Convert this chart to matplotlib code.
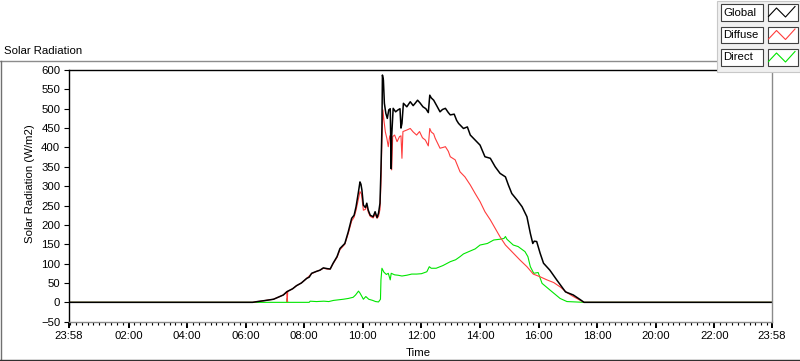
import matplotlib.pyplot as plt
from matplotlib.patches import Rectangle
from matplotlib.lines import Line2D

plt.rcParams["font.family"] = ["Liberation Sans", "DejaVu Sans"]
plt.rcParams["font.size"] = 8.2

W, H = 800, 361

# time in minutes after midnight (23:58 of the previous day = -2), values in W/m2
global_min = [-2, 374, 384, 396, 417, 437, 445, 456, 464, 474, 485, 490, 495, 505, 512,
              519, 527, 533, 539, 547, 553, 563, 570, 577, 582, 586, 591, 594, 596, 598,
              601, 605, 608, 611, 615, 621, 625, 629, 632, 635, 637, 639, 640, 642, 644,
              647, 650, 653, 656, 658, 659, 662, 667, 672, 676, 678, 680, 683, 690, 697,
              703, 707, 712, 717, 723, 729, 734, 737, 740, 745, 752, 758, 763, 769, 775,
              779, 787, 792, 796, 806, 814, 820, 830, 840, 850, 861, 871, 881, 892, 898,
              905, 916, 926, 936, 943, 948, 951, 956, 963, 970, 983, 997, 1015, 1031, 1044,
              1053, 1438]
global_wm2 = [0, 0, 2, 4, 8, 19, 28, 35, 43, 50, 62, 65, 75, 80, 83,
              89, 87, 86, 101, 118, 139, 152, 182, 217, 225, 247, 286, 311, 305, 290,
              251, 245, 256, 238, 225, 221, 234, 219, 230, 256, 342, 453, 587, 574, 514,
              488, 475, 497, 500, 345, 430, 501, 492, 497, 500, 450, 462, 514, 505, 518,
              508, 514, 522, 515, 505, 500, 490, 535, 528, 522, 506, 492, 498, 501, 490,
              484, 486, 470, 462, 449, 453, 432, 419, 406, 376, 372, 350, 333, 324, 303,
              281, 264, 247, 221, 178, 152, 158, 157, 127, 101, 83, 58, 27, 19, 8,
              0, 0]

diffuse_min = [-2, 374, 384, 396, 417, 437, 444, 445, 446, 456, 464, 474, 485, 495, 505,
               512, 519, 527, 533, 539, 547, 553, 563, 570, 577, 582, 586, 591, 594, 597,
               601, 605, 608, 611, 615, 621, 625, 629, 632, 635, 637, 639, 641, 643, 646,
               649, 652, 655, 657, 659, 661, 665, 670, 675, 678, 680, 682, 690, 697, 703,
               710, 716, 722, 728, 734, 737, 740, 745, 748, 758, 764, 769, 775, 779, 789,
               799, 809, 820, 830, 840, 850, 861, 871, 881, 892, 902, 912, 922, 936, 949,
               963, 977, 991, 1005, 1018, 1031, 1044, 1053, 1438]
diffuse_wm2 = [0, 0, 2, 4, 8, 19, 28, 2, 28, 35, 43, 50, 62, 74, 80,
               83, 88, 86, 86, 100, 116, 136, 150, 178, 210, 220, 238, 268, 286, 280,
               238, 240, 250, 233, 222, 218, 228, 217, 222, 240, 308, 420, 497, 471, 440,
               424, 402, 430, 420, 342, 428, 432, 415, 428, 430, 372, 441, 445, 449, 440,
               432, 441, 425, 419, 404, 449, 440, 435, 424, 398, 400, 402, 390, 376, 368,
               337, 324, 303, 281, 260, 234, 213, 191, 169, 148, 135, 122, 109, 92, 73,
               66, 58, 51, 39, 25, 15, 6, 0, 0]

direct_min = [-2, 374, 444, 445, 446, 490, 492, 505, 520, 530, 540, 560, 570, 580, 585,
              591, 594, 598, 601, 606, 612, 620, 626, 632, 636, 637, 639, 643, 648, 652,
              656, 658, 665, 672, 680, 690, 700, 710, 720, 731, 736, 740, 750, 764, 779,
              790, 799, 806, 817, 830, 840, 855, 868, 881, 889, 892, 895, 908, 918, 932,
              938, 943, 950, 959, 967, 983, 1004, 1018, 1053, 1438]
direct_wm2 = [0, 0, 0, 10, 0, 0, 3, 2, 3, 2, 5, 8, 10, 13, 19,
              29, 24, 15, 8, 15, 8, 5, 2, 1, 8, 58, 88, 78, 72, 75,
              58, 75, 71, 70, 68, 70, 73, 73, 74, 79, 92, 88, 88, 95, 105,
              110, 118, 125, 131, 138, 148, 152, 161, 163, 165, 170, 163, 148, 144, 131,
              118, 92, 75, 77, 49, 32, 10, 2, 0, 0]

series = [("Global", global_min, global_wm2, "black"),
          ("Diffuse", diffuse_min, diffuse_wm2, "#ff3c3c"),
          ("Direct", direct_min, direct_wm2, "#00e600")]

major_ticks = [-2, 120, 240, 360, 480, 600, 720, 840, 960, 1080, 1200, 1320, 1438]
major_labels = ["23:58", "02:00", "04:00", "06:00", "08:00", "10:00", "12:00",
                "14:00", "16:00", "18:00", "20:00", "22:00", "23:58"]
minor_ticks = [m for m in range(0, 1440, 12) if m % 120 != 0 or m == 0]
y_ticks = list(range(-50, 601, 50))


def fx(x):
    return x / W


def fy(y):
    return 1 - y / H


fig = plt.figure(figsize=(W / 100, H / 100), dpi=100)
fig.patch.set_facecolor("white")

# outer frame of the graph control
fig.add_artist(Line2D([fx(0), fx(717)], [fy(61), fy(61)], color="#8c8c8c", lw=1))
fig.add_artist(Line2D([fx(0.5), fx(0.5)], [fy(61), fy(360)], color="#707070", lw=1))
fig.add_artist(Line2D([fx(0), fx(800)], [fy(360), fy(360)], color="#303030", lw=1))
fig.text(fx(4), fy(51), "Solar Radiation", ha="left", va="center")

ax = fig.add_axes([fx(69), fy(321.7), 703 / W, 251.7 / H])
for name, t, v, c in [series[2], series[1], series[0]]:
    ax.plot(t, v, color=c, lw=1.1 if name == "Global" else 0.8, label=name)

ax.set_xlim(-2, 1438)
ax.set_ylim(-50, 600)
ax.set_xticks(major_ticks)
ax.set_xticklabels(major_labels)
ax.set_xticks(minor_ticks, minor=True)
ax.set_yticks(y_ticks)
ax.tick_params(axis="x", which="major", length=4, width=1.4, pad=3, labelsize=8.2)
ax.tick_params(axis="x", which="minor", length=2.4, width=0.8)
ax.tick_params(axis="y", which="major", length=3.8, width=0.8, pad=2.5, labelsize=8.2)
for s in ("top", "left"):
    ax.spines[s].set_color("black")
    ax.spines[s].set_linewidth(1.0)
for s in ("bottom", "right"):
    ax.spines[s].set_color("#8a8a8a")
    ax.spines[s].set_linewidth(1.0)

ax.set_xlabel("Time", va="center")
ax.xaxis.set_label_coords((418 - 69) / 703, (321.7 - 353) / 251.7)
ax.set_ylabel("Solar Radiation (W/m2)", va="center")
ax.yaxis.set_label_coords((30.5 - 69) / 703, (321.7 - 184) / 251.7)

# plot legend panel (top right)
fig.add_artist(Rectangle((fx(717), fy(72)), 83 / W, 71 / H, transform=fig.transFigure,
                         fc="#f0f0f0", ec="#c8c8c8", lw=0.8, zorder=5))
row_top = [4, 26.5, 49]
zig_dx = [768.5, 776.5, 785.5, 795]
zig_dy = [12.5, 4, 13, 2.5]
for (name, t, v, c), top in zip(series, row_top):
    fig.add_artist(Rectangle((fx(721), fy(top + 16.7)), 42.3 / W, 16.7 / H,
                             transform=fig.transFigure, fc="white", ec="#404040",
                             lw=0.8, zorder=6))
    fig.add_artist(Rectangle((fx(767.7), fy(top + 16.7)), 30 / W, 16.7 / H,
                             transform=fig.transFigure, fc="white", ec="#404040",
                             lw=0.8, zorder=6))
    fig.text(fx(723), fy(top + 8.5), name, ha="left", va="center", zorder=7)
    fig.add_artist(Line2D([fx(x) for x in zig_dx], [fy(top + d) for d in zig_dy],
                          color=c, lw=0.8, zorder=7))

fig.savefig("out.png", dpi=100)
